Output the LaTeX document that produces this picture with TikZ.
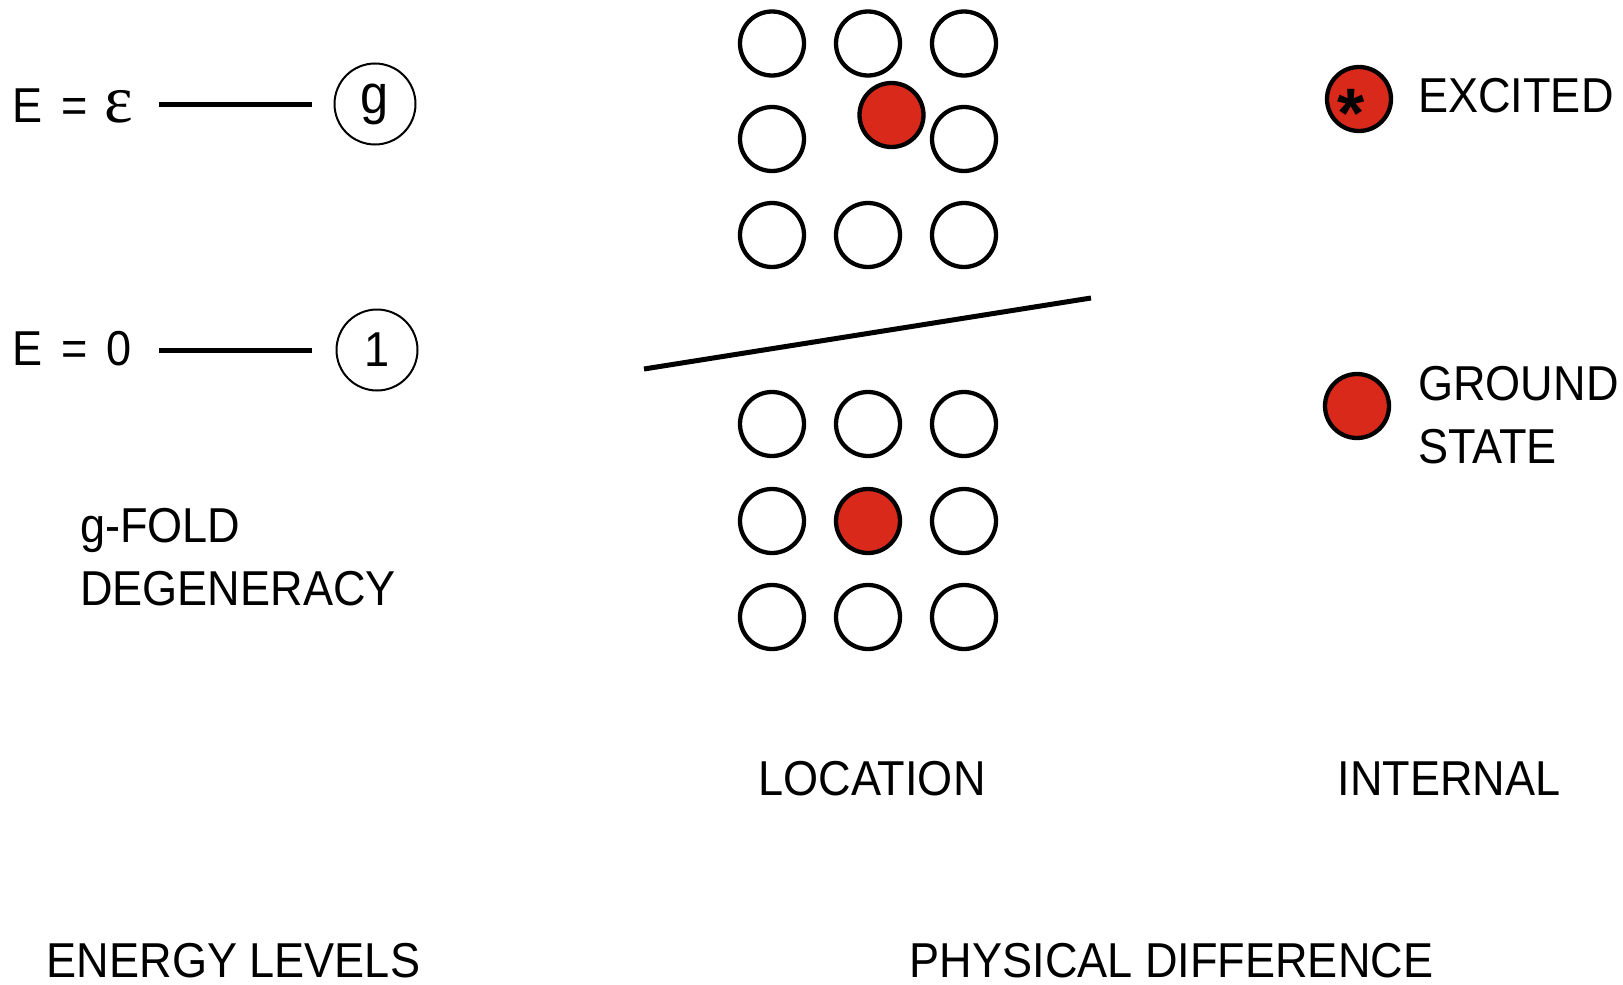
\documentclass[tikz,border=0pt]{standalone}
\usepackage{fontspec}
\setmainfont{Liberation Sans}[FakeStretch=0.92]
\newfontfamily\starfont{Liberation Sans Bold}
\newfontfamily\epsfont{Liberation Serif}
\definecolor{dotred}{RGB}{217,41,27}
\begin{document}
\begin{tikzpicture}[x=1pt,y=-1pt,
  lbl/.style={font=\fontsize{49}{58}\selectfont, inner sep=0pt},
  site/.style={circle, draw, line width=4.3pt, minimum size=64pt, inner sep=0pt},
  atom/.style={site, fill=dotred},
  level/.style={line width=5pt},
  deg/.style={circle, draw, line width=2pt, minimum size=81pt, inner sep=0pt}]
\useasboundingbox[fill=white] (0,0) rectangle (1623,985);

% energy levels
\node[lbl, anchor=base west] (eeps) at (12,122) {E\hspace{19pt}=\hspace{17pt}{\epsfont\fontsize{68}{70}\selectfont ε}};
\node[lbl, anchor=base west] (ezero) at (12,365) {E\hspace{19pt}=\hspace{19pt}0};
\node[deg, font=\fontsize{55}{60}\selectfont] (g) at (375,104) {g};
\node[deg, font=\fontsize{49}{58}\selectfont] (one) at (377,350) {1};
\draw[level] (g.west) ++(-22,0) -- ++(-153,0);
\draw[level] (one.west) ++(-24,0) -- ++(-153,0);
\node[lbl, anchor=base west] (gfold) at (80,542) {g-FOLD};
\node[lbl, anchor=base west] (degen) at (80,605) {DEGENERACY};

% location grids
\foreach \x [count=\i] in {772,868,964}
  \foreach \y [count=\j] in {43.5,139,235}
    {\ifnum\i=2 \ifnum\j=2 \else \node[site] (t\i\j) at (\x,\y) {};\fi
     \else \node[site] (t\i\j) at (\x,\y) {};\fi}
\node[atom] (tatom) at (891.5,115) {};
\foreach \x [count=\i] in {772,868,964}
  \foreach \y [count=\j] in {424,521,617}
    {\ifnum\i=2 \ifnum\j=2 \else \node[site] (b\i\j) at (\x,\y) {};\fi
     \else \node[site] (b\i\j) at (\x,\y) {};\fi}
\node[atom] (batom) at (868,521) {};

\coordinate (d1) at (644,369);
\coordinate (d2) at (1091,298);
\draw[line width=5pt] (d1) -- (d2);

% internal states
\node[atom] (exc) at (1359,99) {};
\node[inner sep=0pt, anchor=base, font=\starfont\fontsize{70}{80}\selectfont] (star) at (1351,137) {*};
\node[atom] (gnd) at (1357,406) {};
\node[lbl, anchor=base west] (exlbl) at (1418,112) {EXCITED};
\node[lbl, anchor=base west] (gdlbl) at (1418,400) {GROUND};
\node[lbl, anchor=base west] (stlbl) at (1418,463) {STATE};

% captions
\node[lbl, anchor=base] (loc) at (872,795) {LOCATION};
\node[lbl, anchor=base] (int) at (1449,795) {INTERNAL};
\node[lbl, anchor=base] (enl) at (233.5,977) {ENERGY LEVELS};
\node[lbl, anchor=base] (phd) at (1171.5,977) {PHYSICAL DIFFERENCE};
\end{tikzpicture}
\end{document}
